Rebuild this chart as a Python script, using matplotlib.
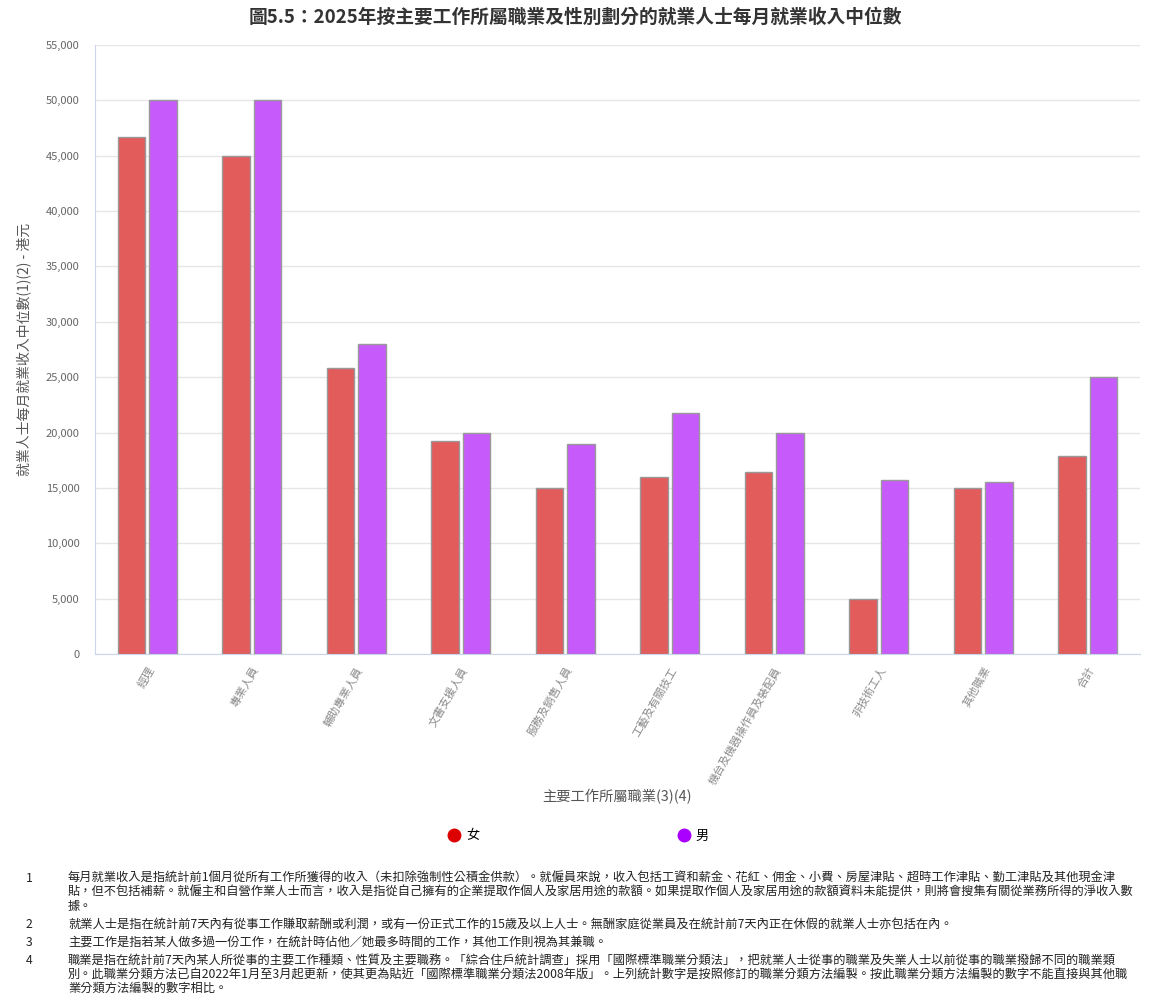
import numpy as np
import matplotlib.pyplot as plt
from matplotlib.lines import Line2D
from matplotlib.ticker import FuncFormatter

plt.rcParams['font.family'] = ['Noto Sans CJK TC', 'DejaVu Sans']

# data
occupations = ['經理', '專業人員', '輔助專業人員', '文書支援人員', '服務及銷售人員',
               '工藝及有關技工', '機台及機器操作員及裝配員', '非技術工人', '其他職業', '合計']
female = [46700, 45000, 25800, 19200, 15000, 16000, 16400, 5000, 15000, 17900]
male = [50000, 50000, 28000, 20000, 19000, 21800, 20000, 15700, 15500, 25000]

title = '圖5.5：2025年按主要工作所屬職業及性別劃分的就業人士每月就業收入中位數'
ylabel = '就業人士每月就業收入中位數(1)(2) - 港元'
xlabel = '主要工作所屬職業(3)(4)'

notes = [
    ('1', ['每月就業收入是指統計前1個月從所有工作所獲得的收入（未扣除強制性公積金供款）。就僱員來說，收入包括工資和薪金、花紅、佣金、小費、房屋津貼、超時工作津貼、勤工津貼及其他現金津',
           '貼，但不包括補薪。就僱主和自營作業人士而言，收入是指從自己擁有的企業提取作個人及家居用途的款額。如果提取作個人及家居用途的款額資料未能提供，則將會搜集有關從業務所得的淨收入數',
           '據。']),
    ('2', ['就業人士是指在統計前7天內有從事工作賺取薪酬或利潤，或有一份正式工作的15歲及以上人士。無酬家庭從業員及在統計前7天內正在休假的就業人士亦包括在內。']),
    ('3', ['主要工作是指若某人做多過一份工作，在統計時佔他／她最多時間的工作，其他工作則視為其兼職。']),
    ('4', ['職業是指在統計前7天內某人所從事的主要工作種類、性質及主要職務。「綜合住戶統計調查」採用「國際標準職業分類法」，把就業人士從事的職業及失業人士以前從事的職業撥歸不同的職業類',
           '別。此職業分類方法已自2022年1月至3月起更新，使其更為貼近「國際標準職業分類法2008年版」。上列統計數字是按照修訂的職業分類方法編製。按此職業分類方法編製的數字不能直接與其他職',
           '業分類方法編製的數字相比。']),
]

W, H = 1170, 996
fig = plt.figure(figsize=(W / 100, H / 100), dpi=100)
ax = fig.add_axes([95 / W, 1 - 654 / H, (1140 - 95) / W, (654 - 45) / H])

x = np.arange(len(occupations))
bw = 0.26
ax.bar(x - 0.15, female, bw, color='#E25C5C', edgecolor='#999999', linewidth=1, zorder=3)
ax.bar(x + 0.15, male, bw, color='#C65AFB', edgecolor='#999999', linewidth=1, zorder=3)

ax.set_xlim(-0.5, len(occupations) - 0.5)
ax.set_ylim(0, 55000)
ax.set_yticks(np.arange(0, 55001, 5000))
ax.yaxis.set_major_formatter(FuncFormatter(lambda v, p: f'{int(v):,}'))
ax.grid(axis='y', color='#E6E6E6', linewidth=1, zorder=0)
for s in ['top', 'right']:
    ax.spines[s].set_visible(False)
ax.spines['left'].set_color('#CCD6EB')
ax.spines['bottom'].set_color('#CCD6EB')
ax.tick_params(axis='y', length=0, labelsize=8, labelcolor='#666666', pad=11)
ax.tick_params(axis='x', length=0, pad=8)
ax.set_xticks(x)
ax.set_xticklabels(occupations, rotation=60, ha='right', rotation_mode='anchor',
                   fontsize=8, color='#8a8a8a')

ax.set_ylabel(ylabel, fontsize=10, color='#555555', labelpad=10)
fig.text(617 / W, 1 - 797 / H, xlabel, fontsize=10.3, color='#555555', ha='center', va='center')
fig.text(575 / W, 1 - 17 / H, title, fontsize=13.5, fontweight='bold', color='#333333',
         ha='center', va='center')

handles = [Line2D([], [], marker='o', ls='', color='#DD0000', markersize=9),
           Line2D([], [], marker='o', ls='', color='#AA00FF', markersize=9)]
fig.legend(handles, ['女', '男'], loc='center', bbox_to_anchor=(578 / W, 1 - 836 / H),
           ncol=2, frameon=False, fontsize=9.5, handlelength=1, handletextpad=0.4,
           columnspacing=15)

y = 878
for num, lines in notes:
    fig.text(26 / W, 1 - y / H, num, fontsize=8.8, color='#222222', va='center')
    for ln in lines:
        fig.text(68 / W, 1 - y / H, ln, fontsize=8.8, color='#222222', va='center')
        y += 14
    y += 4

fig.savefig('out.png', dpi=100)
